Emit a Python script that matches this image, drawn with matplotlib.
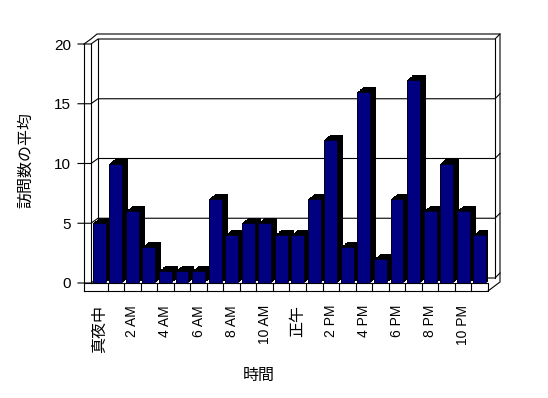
import numpy as np
import matplotlib
matplotlib.use('Agg')
import matplotlib.pyplot as plt
from matplotlib.lines import Line2D
from matplotlib.transforms import ScaledTranslation

plt.rcParams['font.family'] = ['Liberation Sans', 'Noto Sans CJK JP']

hours = list(range(24))
visits = [5, 10, 6, 3, 1, 1, 1, 7, 4, 5, 5, 4, 4, 7, 12, 3, 16, 2, 7, 17, 6, 10, 6, 4]
tick_hours = list(range(0, 24, 2))
tick_labels = ['真夜中', '2 AM', '4 AM', '6 AM', '8 AM', '10 AM',
               '正午', '2 PM', '4 PM', '6 PM', '8 PM', '10 PM']
y_ticks = [0, 5, 10, 15, 20]

DPI = 100
fig = plt.figure(figsize=(5.48, 3.98), dpi=DPI)
ax = fig.add_axes([91 / 548, 115 / 398, 397 / 548, 239 / 398])
ax.set_xlim(-0.5, 23.5)
ax.set_ylim(0, 20)
ax.set_autoscale_on(False)
for s in ax.spines.values():
    s.set_visible(False)
ax.patch.set_visible(False)

xlo, xhi = -0.5, 23.5


def shift(dx, dy):
    # offset in pixels, y up
    return ax.transData + ScaledTranslation(dx / DPI, dy / DPI, fig.dpi_scale_trans)


def frame(pts, z=1):
    # pts: (x data, y data, dx px, dy px)
    disp = np.array([ax.transData.transform((x, y)) + (dx, dy) for x, y, dx, dy in pts])
    xy = fig.transFigure.inverted().transform(disp)
    ax.add_line(Line2D(xy[:, 0], xy[:, 1], color='black', lw=0.8,
                       transform=fig.transFigure, clip_on=False, zorder=z))


# walls and gridlines
for v in y_ticks:
    frame([(xlo, v, -13, 0), (xlo, v, -7, 0), (xlo, v, 0, 0), (xlo, v, 7, 5),
           (xhi, v, 7, 5), (xhi, v, 12, 10)])
frame([(xlo, 20, -7, 0), (xlo, 0, -7, -8)], z=4)
frame([(xlo, 20, 0, 0), (xlo, 0, 0, 0)], z=4)
frame([(xlo, 20, 7, 5), (xlo, 0, 7, 5)])
frame([(xlo, 20, -7, 0), (xlo, 20, 0, 5), (xlo, 20, 6, 10), (xhi, 20, 12, 10),
       (xhi, 0, 12, 1), (xhi, 0, 0, -8)])
frame([(xhi, 20, 7, 5), (xhi, 0, 7, 5)])

# floor
frame([(xlo, 0, -7, 0), (xhi, 0, 0, 0), (xhi, 0, 0, -8), (xlo, 0, -7, -8)], z=4)
for b in np.arange(0.5, 23, 1.0):
    frame([(b, 0, 0, 0), (b, 0, 0, -8)], z=4)

# bars: black depth, then navy front
for t in np.linspace(0, 1, 9):
    ax.bar(hours, visits, width=0.78, color='black', linewidth=0,
           transform=shift(6 * t, 5 * t), zorder=2)
ax.bar(hours, visits, width=0.78, color='#000080', edgecolor='black',
       linewidth=0.4, zorder=3)

ax.set_yticks(y_ticks)
ax.tick_params(axis='y', length=0, pad=14.4, labelsize=11)
ax.set_xticks(tick_hours)
ax.set_xticklabels(tick_labels, rotation=90)
ax.tick_params(axis='x', length=0, pad=15.8, labelsize=10)
for lab in ax.get_xticklabels():
    if lab.get_text() in ('真夜中', '正午'):
        lab.set_fontsize(11.5)

ax.set_xlabel('時間', fontsize=11.5, va='top')
ax.xaxis.set_label_coords((259 - 91) / 397, (283 - 368) / 239)
ax.set_ylabel('訪問数の平均', fontsize=11.5, va='center', ha='center')
ax.yaxis.set_label_coords((26 - 91) / 397, (283 - 160) / 239)

fig.savefig('out.png', dpi=DPI)
